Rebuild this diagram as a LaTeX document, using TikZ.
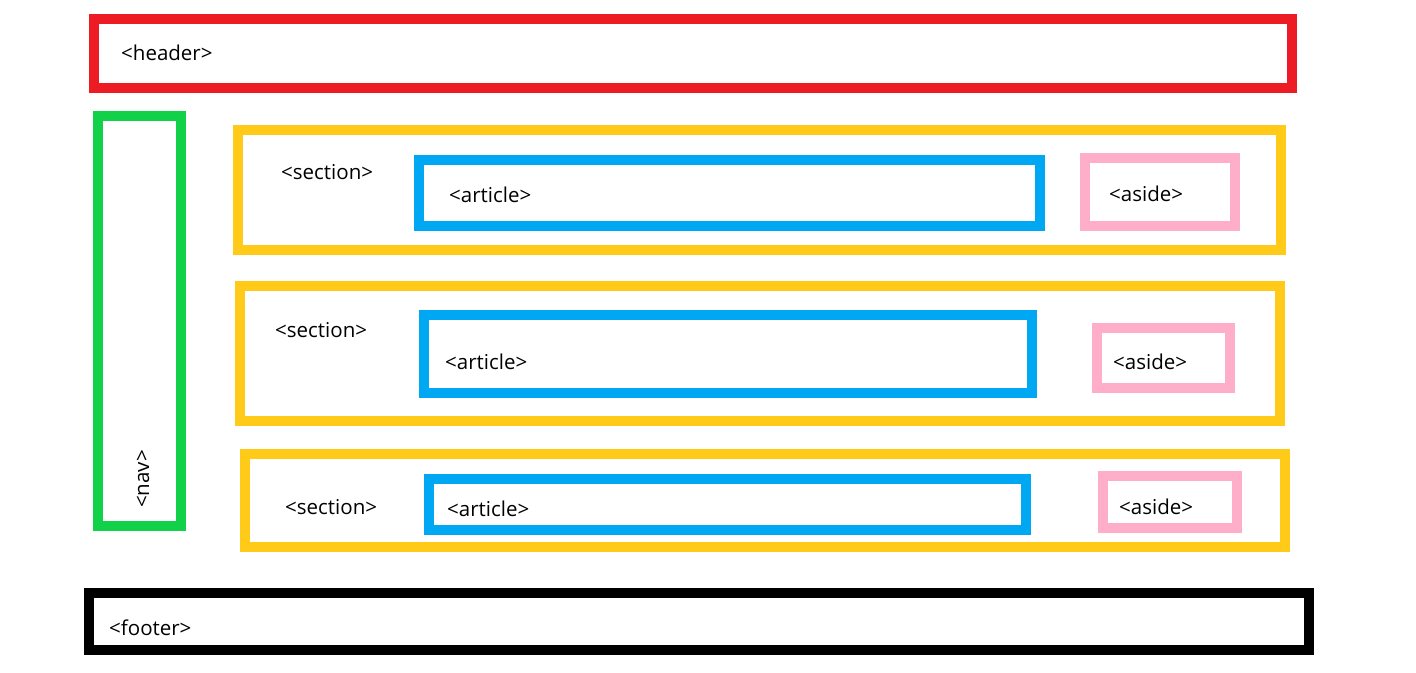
\documentclass[tikz,border=0pt]{standalone}
\usepackage{fontspec}
\setmainfont{Open Sans}
\definecolor{Chdr}{HTML}{ED1C24}
\definecolor{Cnav}{HTML}{11D148}
\definecolor{Csec}{HTML}{FFCA18}
\definecolor{Cart}{HTML}{00A8F3}
\definecolor{Cside}{HTML}{FFAEC9}
\definecolor{Cftr}{HTML}{000000}
\begin{document}
\begin{tikzpicture}[
  x=1pt, y=-1pt,
  box/.style={
    draw=#1, line width=10pt, inner sep=0pt, outer sep=0pt
  },
  tag/.style={
    anchor=west, inner sep=0pt, font=\fontsize{20.5}{24}\selectfont
  }
]
\useasboundingbox (0,0) rectangle (1416,672);
%% PAGE FRAME
\node[box=Chdr, minimum width=1198pt, minimum height=69pt]  (header) at (693,53.5)   {};
\node[box=Cnav, minimum width=83pt,   minimum height=410pt] (nav)    at (139.5,321)  {};
\node[box=Cftr, minimum width=1220pt, minimum height=57pt]  (footer) at (699,621.5)  {};
%% SECTIONS
\node[box=Csec,  minimum width=1043pt, minimum height=120pt] (secA)   at (759.5,190)  {};
\node[box=Cart,  minimum width=621pt,  minimum height=66pt]  (artA)   at (729.5,193)  {};
\node[box=Cside, minimum width=150pt,  minimum height=68pt]  (asideA) at (1160,192)   {};
\node[box=Csec,  minimum width=1040pt, minimum height=135pt] (secB)   at (760,353.5)  {};
\node[box=Cart,  minimum width=608pt,  minimum height=78pt]  (artB)   at (728,354)    {};
\node[box=Cside, minimum width=133pt,  minimum height=60pt]  (asideB) at (1163.5,358) {};
\node[box=Csec,  minimum width=1040pt, minimum height=93pt]  (secC)   at (765,500.5)  {};
\node[box=Cart,  minimum width=597pt,  minimum height=51pt]  (artC)   at (727.5,504.5) {};
\node[box=Cside, minimum width=134pt,  minimum height=52pt]  (asideC) at (1170,502)   {};
%% LABELS
\node[tag] (headerT) at (121,53)  {<header>};
\node[tag] (footerT) at (109,628) {<footer>};
\node[tag, anchor=center, rotate=90] (navT) at (143,479) {<nav>};
\node[tag] (secAT)   at (281,172) {<section>};
\node[tag] (secBT)   at (275,330) {<section>};
\node[tag] (secCT)   at (285,507) {<section>};
\node[tag] (artAT)   at (449,195) {<article>};
\node[tag] (artBT)   at (445,362) {<article>};
\node[tag] (artCT)   at (447,509) {<article>};
\node[tag] (asideAT) at (1109,194) {<aside>};
\node[tag] (asideBT) at (1113,362) {<aside>};
\node[tag] (asideCT) at (1119,507) {<aside>};
\end{tikzpicture}
\end{document}
